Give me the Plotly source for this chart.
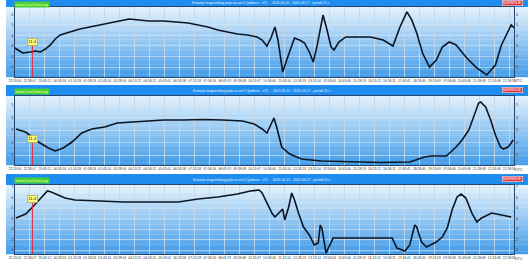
import plotly.graph_objects as go

# ---------------- data (hours since start, value) ----------------
p1_hours = [0.00, 0.20, 0.39, 0.79, 1.04, 1.28, 1.53, 1.78, 2.02, 2.27, 2.76, 3.25, 3.75, 4.24, 4.73,
            5.23, 5.72, 6.21, 6.71, 7.45, 8.19, 8.68, 9.17, 9.66, 10.16, 10.65, 11.14, 11.64, 12.13,
            12.38, 12.62, 12.82, 13.02, 13.17, 13.31, 13.41, 13.61, 13.81, 14.00, 14.25, 14.50, 14.74,
            14.94, 15.14, 15.43, 15.63, 15.83, 15.98, 16.22, 16.57, 17.06, 17.80, 18.44, 18.93, 19.28,
            19.63, 19.87, 20.12, 20.41, 20.76, 21.10, 21.40, 21.75, 22.09, 22.58, 23.08, 23.62, 24.06,
            24.36, 24.70, 24.85, 25.00]
p1_values = [2.81, 2.52, 2.33, 2.43, 2.52, 2.43, 2.71, 3.10, 3.67, 4.05, 4.33, 4.62, 4.81, 5.00, 5.19,
             5.38, 5.57, 5.48, 5.38, 5.38, 5.29, 5.19, 5.00, 4.81, 4.52, 4.33, 4.14, 4.05, 3.86,
             3.57, 3.00, 3.76, 4.81, 3.57, 1.67, 0.52, 1.67, 2.81, 3.76, 3.57, 3.29, 2.43,
             1.48, 3.10, 5.95, 4.52, 2.90, 2.62, 3.38, 3.86, 3.86, 3.86, 3.57, 3.00, 4.81,
             6.24, 5.48, 4.24, 2.33, 1.00, 1.67, 2.90, 3.38, 3.10, 1.95, 1.00, 0.24, 1.19,
             3.10, 4.52, 5.00, 4.71]

p2_hours = [0.05, 0.54, 1.18, 1.68, 2.02, 2.42, 2.86, 3.35, 3.85, 4.49, 5.13, 5.82, 6.46, 7.45, 8.43,
            9.42, 10.40, 11.39, 11.98, 12.38, 12.62, 12.82, 12.97, 13.12, 13.36, 13.76, 14.35, 15.34,
            16.81, 18.29, 19.77, 20.12, 20.51, 20.86, 21.60, 22.09, 22.39, 22.73, 22.98, 23.22, 23.32,
            23.57, 23.82, 24.06, 24.31, 24.46, 24.70, 24.95]
p2_values = [3.08, 2.84, 2.04, 1.56, 1.32, 1.56, 2.04, 2.76, 3.08, 3.24, 3.56, 3.64, 3.72, 3.80, 3.80,
             3.84, 3.80, 3.72, 3.48, 3.08, 2.76, 3.48, 3.96, 3.16, 1.64, 1.08, 0.68, 0.52,
             0.44, 0.40, 0.44, 0.60, 0.84, 0.92, 0.92, 1.64, 2.20, 3.00, 4.04, 5.16, 5.24,
             4.84, 3.80, 2.60, 1.64, 1.48, 1.64, 2.20]

p3_hours = [0.05, 0.54, 0.89, 1.18, 1.43, 1.63, 1.82, 2.12, 2.51, 3.01, 3.99, 5.47, 6.95, 8.19, 9.17,
            10.16, 11.14, 11.79, 12.23, 12.38, 12.62, 12.87, 13.02, 13.26, 13.41, 13.51, 13.71, 13.86,
            14.00, 14.20, 14.45, 14.74, 14.99, 15.19, 15.29, 15.38, 15.58, 15.93, 17.06, 18.05, 18.89,
            19.13, 19.53, 19.77, 20.02, 20.12, 20.36, 20.61, 21.10, 21.40, 21.65, 21.89, 22.14, 22.34,
            22.58, 22.88, 23.13, 23.37, 23.87, 24.36, 24.85]
p3_values = [4.05, 4.43, 5.10, 5.67, 6.24, 6.62, 6.52, 6.24, 5.95, 5.76, 5.67, 5.57, 5.57, 5.57, 5.86,
             6.05, 6.33, 6.62, 6.71, 6.43, 5.48, 4.52, 4.14, 4.62, 4.90, 3.86, 5.10, 6.43,
             5.76, 4.52, 3.19, 2.43, 1.48, 1.67, 3.38, 3.00, 0.71, 2.14, 2.14, 2.14, 2.14,
             1.19, 0.90, 1.48, 3.38, 3.19, 1.76, 1.29, 1.76, 2.24, 3.10, 4.81, 6.05, 6.33,
             5.95, 4.52, 3.67, 4.05, 4.52, 4.33, 4.14]

x_tick_labels = ["22:13:00", "22:58:07", "23:43:12", "00:28:56", "01:13:28", "01:58:53", "02:43:14",
                 "03:28:54", "04:13:22", "04:58:21", "05:43:01", "06:28:58", "07:13:28", "07:58:16",
                 "08:43:19", "09:28:48", "10:13:47", "10:58:46", "11:43:10", "12:28:13", "13:13:14",
                 "13:58:04", "14:43:40", "15:28:13", "16:13:12", "16:58:11", "17:43:41", "18:28:40",
                 "19:13:09", "19:58:08", "20:43:08", "21:28:08", "22:13:08", "22:58:56"]
p1_yticks = [1, 2, 3, 4, 5, 6]
p2_yticks = [1, 2, 3, 4, 5]
p3_yticks = [1, 2, 3, 4, 5, 6, 7]

titles = [
    "Kretanje magnetskog polja na osi X (jedinice - nT)  -  2025-04-15 - 2025-04-17 , period 15 s",
    "Kretanje magnetskog polja na osi Y (jedinice - nT)  -  2025-04-15 - 2025-04-17 , period 15 s",
    "Kretanje magnetskog polja na osi Z (jedinice - nT)  -  2025-04-15 - 2025-04-17 , period 15 s",
]
site_label = "www.LunaTime.org"
badge_label = "MJERENJE"
marker_hour = 0.88
marker_label = "11.4"
marker_levels = [3.38, 2.28, 5.81]

# ---------------- layout helpers ----------------
W, H = 530, 263
X0, X1 = 9, 516


def py(px):
    return 1 - px / H


def mix(c1, c2, t):
    return "rgb(%d,%d,%d)" % tuple(round(a + (b - a) * t) for a, b in zip(c1, c2))


panels = [
    dict(x=p1_hours, y=p1_values, ticks=p1_yticks, top=7, bottom=77, band=(0, 7), yr=[0.05, 6.71]),
    dict(x=p2_hours, y=p2_values, ticks=p2_yticks, top=96, bottom=165, band=(85, 96), yr=[0.2, 5.72]),
    dict(x=p3_hours, y=p3_values, ticks=p3_yticks, top=185, bottom=254, band=(174, 185), yr=[0.62, 7.19]),
]

fig = go.Figure()
shapes = []
annotations = []
tickvals = [i * 0.75 for i in range(len(x_tick_labels))]
font_family = "Liberation Sans, Arial, sans-serif"
top_col = (228, 242, 252)
bot_col = (66, 155, 232)

for i, p in enumerate(panels):
    n = i + 1
    xa = "x" if n == 1 else "x%d" % n
    ya = "y" if n == 1 else "y%d" % n
    yr_name = "y%d" % (n + 3)
    xkey = "xaxis" if n == 1 else "xaxis%d" % n
    ykey = "yaxis" if n == 1 else "yaxis%d" % n

    fig.add_trace(go.Scatter(x=p["x"], y=p["y"], mode="lines", xaxis=xa, yaxis=ya,
                             line=dict(color="#0b1624", width=1.6), hoverinfo="skip", showlegend=False))
    fig.add_trace(go.Scatter(x=p["x"], y=p["y"], mode="lines", xaxis=xa, yaxis=yr_name,
                             line=dict(color="rgba(0,0,0,0)", width=0), hoverinfo="skip", showlegend=False))

    dom_y = [py(p["bottom"]), py(p["top"])]
    fig.layout[xkey] = dict(domain=[X0 / W, X1 / W], range=[0, 25], anchor=ya,
                            tickvals=tickvals, ticktext=x_tick_labels, tickangle=0,
                            tickfont=dict(size=3.3, color="#333", family=font_family),
                            showgrid=True, gridcolor="rgba(200,214,228,0.85)", gridwidth=1,
                            showline=True, linecolor="#24466e", linewidth=1, mirror=True,
                            ticks="", zeroline=False)
    fig.layout[ykey] = dict(domain=dom_y, range=p["yr"], anchor=xa,
                            tickvals=p["ticks"], tickfont=dict(size=3.6, color="#333", family=font_family),
                            showgrid=True, gridcolor="rgba(215,228,240,0.6)", gridwidth=1,
                            showline=True, linecolor="#24466e", linewidth=1,
                            ticks="", zeroline=False)
    fig.layout["yaxis%d" % (n + 3)] = dict(overlaying=ya, side="right", anchor=xa, range=p["yr"],
                                           tickvals=p["ticks"],
                                           tickfont=dict(size=3.6, color="#333", family=font_family),
                                           showgrid=False, showline=True, linecolor="#24466e",
                                           linewidth=1, ticks="", zeroline=False)

    # gradient background
    nb = 28
    for k in range(nb):
        y0 = p["top"] + (p["bottom"] - p["top"]) * k / nb
        y1 = p["top"] + (p["bottom"] - p["top"]) * (k + 1) / nb + 0.3
        shapes.append(dict(type="rect", xref="paper", yref="paper", x0=0, x1=1,
                           y0=py(y1), y1=py(y0), line=dict(width=0),
                           fillcolor=mix(top_col, bot_col, (k + 0.5) / nb), layer="below"))
    # header band
    b0, b1 = p["band"]
    shapes.append(dict(type="rect", xref="paper", yref="paper", x0=0, x1=1, y0=py(b1), y1=py(b0),
                       line=dict(width=0), fillcolor="#1f8cf0", layer="below"))
    bc = (b0 + b1) / 2
    annotations.append(dict(xref="paper", yref="paper", x=259 / W, y=py(bc), text=titles[i],
                            showarrow=False, font=dict(size=3.4, color="#e8f4ff", family=font_family),
                            xanchor="center", yanchor="middle"))
    annotations.append(dict(xref="paper", yref="paper", x=8 / W, y=py(bc + 1.2), text=site_label,
                            showarrow=False, bgcolor="#45cf3a", borderpad=0.6,
                            font=dict(size=3.8, color="#f4ff8a", family=font_family),
                            xanchor="left", yanchor="middle"))
    annotations.append(dict(xref="paper", yref="paper", x=514 / W, y=py(bc - 0.5), text=badge_label,
                            showarrow=False, bgcolor="#e2343c", borderpad=0.5,
                            bordercolor="#ffffff", borderwidth=0.5,
                            font=dict(size=3.4, color="#ffffff", family=font_family),
                            xanchor="center", yanchor="middle"))
    annotations.append(dict(xref="paper", yref="paper", x=521 / W, y=py(p["bottom"] + 4.5), text="UTC",
                            showarrow=False, font=dict(size=3.6, color="#333", family=font_family),
                            xanchor="center", yanchor="middle"))
    # current-time marker
    shapes.append(dict(type="line", xref=xa, yref=ya, x0=marker_hour, x1=marker_hour,
                       y0=p["yr"][0], y1=marker_levels[i], line=dict(color="#e0303a", width=1)))
    annotations.append(dict(xref=xa, yref=ya, x=marker_hour, y=marker_levels[i], text=marker_label,
                            showarrow=False, bgcolor="#fbf77a", bordercolor="#8a8a50", borderwidth=0.5,
                            borderpad=0.8, font=dict(size=4.2, color="#222", family=font_family),
                            xanchor="center", yanchor="middle"))

fig.update_layout(width=W, height=H, margin=dict(l=0, r=0, t=0, b=0),
                  paper_bgcolor="white", plot_bgcolor="rgba(0,0,0,0)",
                  shapes=shapes, annotations=annotations, showlegend=False)
fig.write_html("out.html")
